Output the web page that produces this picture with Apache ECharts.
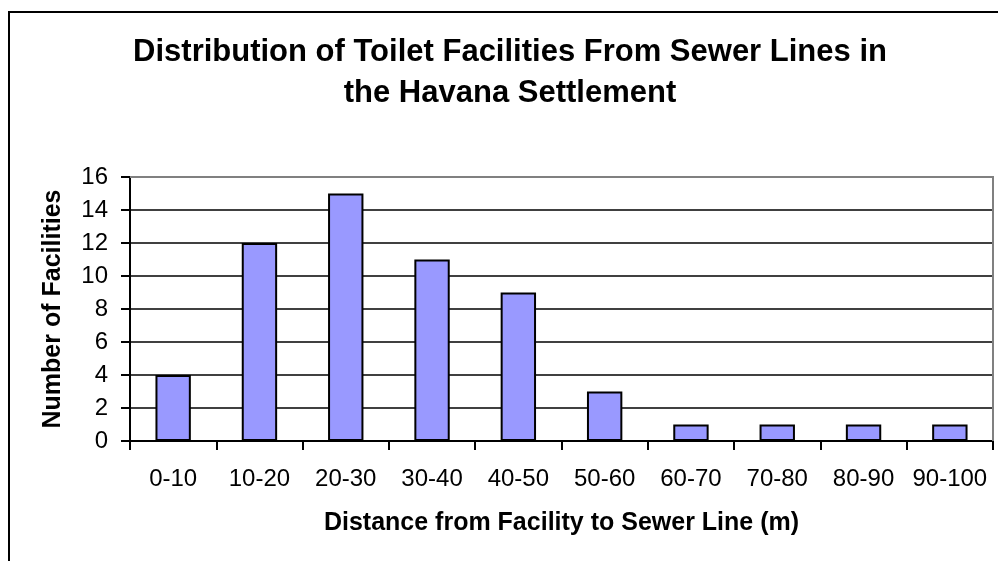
<!DOCTYPE html>
<html>
<head>
<meta charset="utf-8">
<script src="https://cdn.jsdelivr.net/npm/echarts@6/dist/echarts.min.js"></script>
<style>
  html, body { margin: 0; padding: 0; background: #fff; }
  #chart { width: 998px; height: 561px; }
</style>
</head>
<body>
<div id="chart"></div>
<script>
// Distance bins (m) and number of toilet facilities in each bin
const distanceBins = ['0-10', '10-20', '20-30', '30-40', '40-50', '50-60', '60-70', '70-80', '80-90', '90-100'];
const facilityCounts = [4, 12, 15, 11, 9, 3, 1, 1, 1, 1];
const yTicks = { min: 0, max: 16, interval: 2 };

const FONT = '"Liberation Sans", Arial, sans-serif';
const chart = echarts.init(document.getElementById('chart'), null, { renderer: 'canvas' });

const grid = { left: 130, top: 177, right: 5, bottom: 120 };

chart.setOption({
  animation: false,
  backgroundColor: '#ffffff',
  title: {
    text: 'Distribution of Toilet Facilities From Sewer Lines in\nthe Havana Settlement',
    left: 510,
    top: 32,
    textAlign: 'center',
    padding: 0,
    textStyle: { fontFamily: FONT, fontSize: 31, fontWeight: 'bold', color: '#000', lineHeight: 41 }
  },
  graphic: [
    // outer chart frame (runs off the right and bottom edges)
    { type: 'rect', shape: { x: 9, y: 12, width: 1100, height: 700 },
      style: { fill: 'none', stroke: '#000', lineWidth: 2 }, z: 0 },
    // plot area frame: grey on top and right
    { type: 'polyline', shape: { points: [[130, 177], [993, 177], [993, 441]] },
      style: { fill: 'none', stroke: '#808080', lineWidth: 2 }, z: 1 }
  ],
  grid: grid,
  xAxis: {
    type: 'category',
    data: distanceBins,
    name: 'Distance from Facility to Sewer Line (m)',
    nameLocation: 'middle',
    nameGap: 70,
    nameTextStyle: { fontFamily: FONT, fontSize: 25, fontWeight: 'bold', color: '#000' },
    axisLine: { lineStyle: { color: '#000', width: 2 } },
    axisTick: { show: true, length: 9, interval: 0, lineStyle: { color: '#000', width: 2 } },
    axisLabel: { fontFamily: FONT, fontSize: 24, color: '#000', margin: 26, interval: 0, hideOverlap: false },
    splitLine: { show: false }
  },
  yAxis: {
    type: 'value',
    min: yTicks.min,
    max: yTicks.max,
    interval: yTicks.interval,
    name: 'Number of Facilities',
    nameLocation: 'middle',
    nameGap: 64,
    nameTextStyle: { fontFamily: FONT, fontSize: 25, fontWeight: 'bold', color: '#000' },
    axisLine: { show: true, lineStyle: { color: '#000', width: 2 } },
    axisTick: { show: true, inside: false, length: 9, lineStyle: { color: '#000', width: 2 } },
    axisLabel: { fontFamily: FONT, fontSize: 24, color: '#000', margin: 22 },
    splitLine: { show: true, lineStyle: { color: '#000', width: 1.5 } }
  },
  series: [{
    type: 'bar',
    data: facilityCounts,
    barWidth: '41%',
    itemStyle: { color: '#9999FF', borderColor: '#000', borderWidth: 2 },
    z: 3
  }]
});
</script>
</body>
</html>
